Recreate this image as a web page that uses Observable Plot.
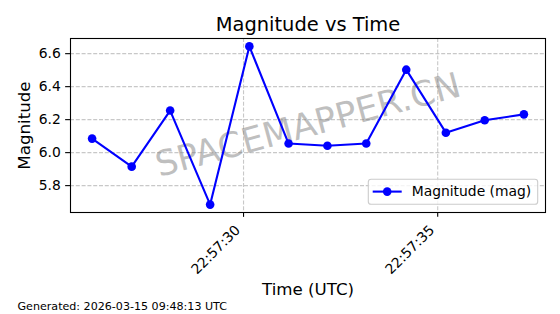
<!DOCTYPE html>
<html>
<head>
<meta charset="utf-8">
<script src="https://cdn.jsdelivr.net/npm/d3@7"></script>
<script src="https://cdn.jsdelivr.net/npm/@observablehq/plot@0.6"></script>
<style>
  html, body { margin: 0; padding: 0; background: #fff; }
</style>
</head>
<body>
<div id="chart"></div>
<script>
// ---- data ----
const times = [
  "2026-03-14T22:57:26.10Z", "2026-03-14T22:57:27.12Z", "2026-03-14T22:57:28.11Z",
  "2026-03-14T22:57:29.14Z", "2026-03-14T22:57:30.15Z", "2026-03-14T22:57:31.16Z",
  "2026-03-14T22:57:32.16Z", "2026-03-14T22:57:33.16Z", "2026-03-14T22:57:34.19Z",
  "2026-03-14T22:57:35.21Z", "2026-03-14T22:57:36.21Z", "2026-03-14T22:57:37.22Z"
];
const magnitudes = [6.085, 5.915, 6.255, 5.685, 6.644, 6.055, 6.042, 6.055, 6.503, 6.121, 6.196, 6.232];
const xTickLabels = ["2026-03-14T22:57:30Z", "2026-03-14T22:57:35Z"];
const yTickValues = [5.8, 6.0, 6.2, 6.4, 6.6];
const titleText = "Magnitude vs Time";
const xLabelText = "Time (UTC)";
const yLabelText = "Magnitude";
const legendText = "Magnitude (mag)";
const footerText = "Generated: 2026-03-15 09:48:13 UTC";
const watermarkText = "SPACEMAPPER.CN";

const rows = times.map((t, i) => ({time: new Date(t), mag: magnitudes[i]}));
const xTicks = xTickLabels.map(t => new Date(t));

// matplotlib-style 5% margins
function padded(ext) { const p = (ext[1] - ext[0]) * 0.05; return [ext[0] - p, ext[1] + p]; }
const tExt = d3.extent(rows, d => +d.time);
const xDomain = padded(tExt).map(v => new Date(v));
const yDomain = padded(d3.extent(rows, d => d.mag));

const fmt = d3.utcFormat("%H:%M:%S");
const BLUE = "#0000ff";

function legendMark(index, scales, values, dims) {
  const g = d3.create("svg:g");
  const right = dims.width - dims.marginRight - 7.3;
  const bottom = dims.height - dims.marginBottom - 7.7;
  const w = 169.4, h = 25;
  const x0 = right - w, y0 = bottom - h;
  g.append("rect").attr("x", x0).attr("y", y0).attr("width", w).attr("height", h)
    .attr("rx", 2.8).attr("fill", "#fff").attr("fill-opacity", 0.8)
    .attr("stroke", "#cccccc").attr("stroke-width", 1.1);
  const cy = y0 + h / 2 - 0.2;
  g.append("line").attr("x1", x0 + 4.4).attr("x2", x0 + 33.4).attr("y1", cy).attr("y2", cy)
    .attr("fill", "none").attr("stroke", BLUE).attr("stroke-width", 2.1);
  g.append("circle").attr("cx", x0 + 18.9).attr("cy", cy).attr("r", 4.3).attr("fill", BLUE).attr("stroke", "none");
  g.append("text").attr("x", x0 + 43.4).attr("y", cy).attr("dy", "0.32em")
    .attr("text-anchor", "start").attr("font-size", 13.89).attr("fill", "#000").text(legendText);
  return g.node();
}

const chart = Plot.plot({
  width: 560,
  height: 314,
  marginLeft: 70,
  marginRight: 15,
  marginTop: 38,
  marginBottom: 102,
  style: {fontFamily: "DejaVu Sans", fontSize: "13.89px", background: "#fff", color: "#000", overflow: "visible"},
  x: {type: "utc", domain: xDomain},
  y: {domain: yDomain},
  marks: [
    Plot.gridY(yTickValues, {stroke: "#b0b0b0", strokeOpacity: 0.7, strokeWidth: 1.1, strokeDasharray: "4,1.8"}),
    Plot.gridX(xTicks, {stroke: "#b0b0b0", strokeOpacity: 0.7, strokeWidth: 1.1, strokeDasharray: "4,1.8"}),
    Plot.text([watermarkText], {frameAnchor: "middle", text: d => d, rotate: -15, fontSize: 35, fill: "gray", fillOpacity: 0.5, lineAnchor: "middle"}),
    Plot.line(rows, {x: "time", y: "mag", stroke: BLUE, strokeWidth: 2.1}),
    Plot.dot(rows, {x: "time", y: "mag", r: 4.3, fill: BLUE, stroke: "none"}),
    Plot.axisY({ticks: yTickValues, tickFormat: d3.format(".1f"), tickSize: 4.86, tickPadding: 4.86, strokeWidth: 1.1, label: null, fontSize: 13.89}),
    Plot.axisX({ticks: xTicks, tickFormat: () => "", tickSize: 4.86, strokeWidth: 1.1, label: null}),
    Plot.text(xTicks, {x: d => d, text: d => fmt(d), frameAnchor: "bottom", dy: 15.4, dx: -5.7, rotate: -45, textAnchor: "end", lineAnchor: "middle", fontSize: 13.89, fill: "#000"}),
    Plot.text([xLabelText], {frameAnchor: "bottom", text: d => d, dy: 77, fontSize: 16.67, lineAnchor: "middle", fill: "#000"}),
    Plot.text([yLabelText], {frameAnchor: "left", text: d => d, dx: -46.3, rotate: -90, textAnchor: "middle", fontSize: 16.67, lineAnchor: "middle", fill: "#000"}),
    Plot.text([titleText], {frameAnchor: "top", text: d => d, dy: -14.2, fontSize: 19.44, lineAnchor: "middle", fill: "#000"}),
    Plot.text([footerText], {frameAnchor: "bottom-left", text: d => d, dx: -53, dy: 93.9, textAnchor: "start", fontSize: 11.1, lineAnchor: "middle", fill: "#000"}),
    legendMark,
    Plot.frame({stroke: "#000", strokeWidth: 1.1})
  ]
});
document.getElementById("chart").appendChild(chart);
</script>
</body>
</html>
